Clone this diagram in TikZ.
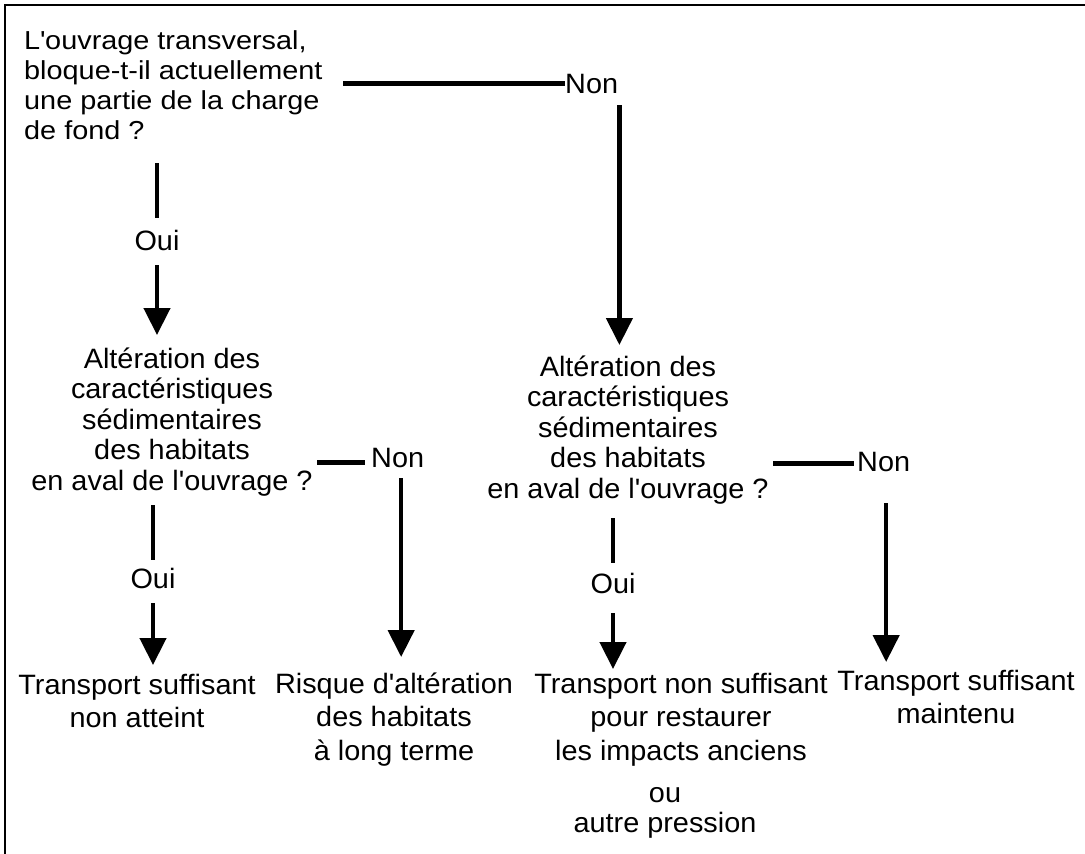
\documentclass[tikz,border=0pt]{standalone}
\usepackage{fontspec}
\setmainfont{Liberation Sans}[FakeStretch=1.03]
\newfontfamily\qfont{Liberation Sans}[FakeStretch=1.11]
\usetikzlibrary{arrows.meta}
\newcommand\tstr{\rule{0pt}{24bp}}
\newcommand\dstr{\rule[-7bp]{0pt}{7bp}}
\begin{document}
\begin{tikzpicture}[x=1bp,y=-1bp,
  txt/.style={inner sep=0pt,align=center,anchor=north},
  lbl/.style={inner sep=0pt,font=\fontsize{28bp}{30bp}\selectfont},
  conn/.style={line width=4.5bp},
  arr/.style={line width=4.5bp,-{Triangle[width=26bp,length=27bp]}}]
\useasboundingbox (0,0) rectangle (1085,854);
\draw[line width=2bp] (5,854) -- (5,5) -- (1085,5);

% nodes
\node[txt,align=left,anchor=north west,font=\qfont\fontsize{26bp}{30bp}\selectfont] (q1) at (24,25)
  {\tstr L\textquotesingle ouvrage transversal,\\bloque-t-il actuellement\\une partie de la charge\\de fond ?\dstr};
\node[lbl,anchor=base west] (n1) at (565,93) {Non};
\node[lbl,anchor=base] (o1) at (157,250) {Oui};
\node[txt,font=\fontsize{28bp}{30.5bp}\selectfont] (q2l) at (172,344)
  {\tstr Altération des\\caractéristiques\\sédimentaires\\des habitats\\en aval de l\textquotesingle ouvrage ?\dstr};
\node[txt,font=\fontsize{28bp}{30.5bp}\selectfont] (q2r) at (628,352)
  {\tstr Altération des\\caractéristiques\\sédimentaires\\des habitats\\en aval de l\textquotesingle ouvrage ?\dstr};
\node[lbl,anchor=base west] (n2) at (371,467) {Non};
\node[lbl,anchor=base] (o2) at (153,588) {Oui};
\node[lbl,anchor=base west] (n3) at (857,471) {Non};
\node[lbl,anchor=base] (o3) at (613,593) {Oui};
\node[txt,font=\fontsize{28bp}{33bp}\selectfont] (t1) at (137,670)
  {\tstr Transport suffisant\\non atteint\dstr};
\node[txt,font=\fontsize{28bp}{33.5bp}\selectfont] (r2) at (394,669)
  {\tstr Risque d\textquotesingle altération\\des habitats\\à long terme\dstr};
\node[txt,font=\fontsize{28bp}{33.5bp}\selectfont] (t3) at (681,669)
  {\tstr Transport non suffisant\\pour restaurer\\les impacts anciens\dstr};
\node[txt,font=\fontsize{28bp}{30bp}\selectfont] (t3b) at (665,778)
  {\tstr ou\\autre pression\dstr};
\node[txt,font=\fontsize{28bp}{33bp}\selectfont] (t4) at (956,666)
  {\tstr Transport suffisant\\maintenu\dstr};

% connectors
\draw[conn] ([xshift=20.3bp]q1.east |- n1.west) -- (n1.west);
\draw[arr] ([xshift=1.1bp,yshift=-12bp]n1.south east) -- ([xshift=1.1bp,yshift=7bp]n1.south east |- q2r.north);
\draw[conn] ([yshift=-17bp]q1.south -| o1.north) -- ([yshift=11.5bp]o1.north);
\draw[arr] ([yshift=-15bp]o1.south) -- ([yshift=9bp]o1.south |- q2l.north);
\draw[conn] ([xshift=4.5bp,yshift=-5bp]q2l.east |- n2.west) -- ([xshift=-6bp,yshift=-5bp]n2.west);
\draw[arr] ([xshift=3.5bp,yshift=-11bp]n2.south) -- ([xshift=3.5bp,yshift=12bp]n2.south |- r2.north);
\draw[conn] ([yshift=-8bp]q2l.south -| o2.north) -- ([yshift=7.5bp]o2.north);
\draw[arr] ([yshift=-15bp]o2.south) -- ([yshift=5bp]o2.south |- t1.north);
\draw[conn] ([xshift=4.5bp,yshift=-2bp]q2r.east |- n3.west) -- ([xshift=-3bp,yshift=-2bp]n3.west);
\draw[arr] ([xshift=2.5bp,yshift=-32bp]n3.south) -- ([xshift=2.5bp,yshift=4bp]n3.south |- t4.north);
\draw[conn] ([yshift=-13bp]q2r.south -| o3.north) -- ([yshift=9.5bp]o3.north);
\draw[arr] ([yshift=-20bp]o3.south) -- (o3.south |- t3.north);
\end{tikzpicture}
\end{document}
